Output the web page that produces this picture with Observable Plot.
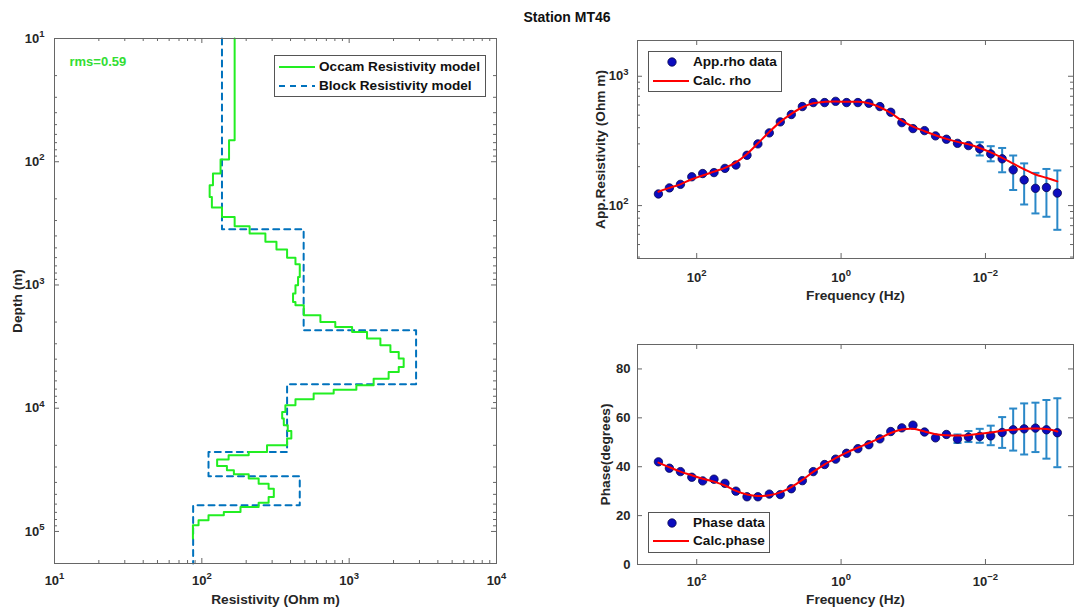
<!DOCTYPE html>
<html>
<head>
<meta charset="utf-8">
<script src="https://cdn.jsdelivr.net/npm/d3@7"></script>
<script src="https://cdn.jsdelivr.net/npm/@observablehq/plot@0.6"></script>
<style>
  html, body { margin: 0; padding: 0; background: #fff; }
  #wrap { position: relative; width: 1074px; height: 607px; overflow: hidden; background: #fff;
          font-family: "Liberation Sans", Arial, sans-serif; }
  .panel { position: absolute; }
  .panel svg { display: block; max-width: none; }
  .title { position: absolute; left: 0; width: 1134px; top: 8px; text-align: center;
           font: bold 14px "Liberation Sans", Arial, sans-serif; color: #111; line-height: 18px; }
  .legend { position: absolute; border: 1px solid #555; background: #fff; box-sizing: border-box; }
  .ltext { position: absolute; font: bold 13.6px "Liberation Sans", Arial, sans-serif; color: #111;
           line-height: 16px; white-space: nowrap; }
  .sw { position: absolute; overflow: visible; }
</style>
</head>
<body>
<div id="wrap">
  <div class="title">Station MT46</div>
</div>
<script>
// ---------------- DATA ----------------
// Occam smooth model: top depth (m) of each layer and its resistivity (Ohm m)
const occamDepthTop = [10, 66.9, 95.9, 124.7, 155, 193, 235, 281, 334, 383,
  445, 516, 600, 680, 861, 1006, 1175, 1374, 1462, 1762,
  1996, 2193, 2405, 2722, 3085, 3496, 3957, 4630, 5084, 5754,
  6521, 7068, 7610, 8465, 9462, 10730, 12140, 13750, 15300, 17650,
  20000, 22680, 24110, 26130, 29440, 31910, 34410, 37260, 40920, 44950,
  52580, 58380, 63380, 69600, 74000, 81240, 89190];
const occamRho = [167, 153, 134, 119, 113, 117, 137, 167, 211, 270,
  321, 379, 432, 462, 450, 432, 416, 432, 492, 638,
  805, 1047, 1322, 1629, 1905, 2170, 2344, 2170, 1853, 1466,
  1119, 785, 574, 432, 369, 351, 360, 383, 405, 379,
  277, 208, 152, 127, 148, 165, 208, 243, 284, 308,
  284, 243, 183, 141, 111, 95, 87];
const occamDepthEnd = 114300;

// Block model
const blockDepthTop = [10, 353, 2334, 6395, 22700, 35700, 61400];
const blockRho = [137, 491, 2846, 379, 111, 462, 87.3];
const blockDepthEnd = 182000;

const rmsLabel = "rms=0.59";

// MT responses
const freq = [339, 239, 168, 117, 82.6, 57.6, 40.6, 28.6, 20.1, 14.2,
  9.87, 6.95, 4.89, 3.44, 2.43, 1.69, 1.19, 0.839, 0.585, 0.412,
  0.290, 0.205, 0.144, 0.101, 0.0698, 0.0492, 0.0347, 0.0244, 0.0172, 0.0120,
  0.00845, 0.00587, 0.00413, 0.00291, 0.00203, 0.00143, 0.00101];
const rhoData = [123, 137, 146, 167, 177, 180, 194, 206, 245, 300,
  365, 444, 506, 583, 626, 626, 640, 626, 626, 618,
  583, 527, 438, 394, 380, 346, 326, 303, 291, 275,
  251, 230, 189, 158, 136, 138, 125];
const rhoLo = [null, null, null, null, null, null, null, null, null, null,
  null, null, null, null, null, null, null, null, null, null,
  null, null, null, null, null, null, null, null, null, 244,
  220, 181, 132, 102, 87, 82, 65];
const rhoHi = [null, null, null, null, null, null, null, null, null, null,
  null, null, null, null, null, null, null, null, null, null,
  null, null, null, null, null, null, null, null, null, 309,
  288, 279, 244, 212, 179, 192, 187];
const rhoCalc = [128, 137, 146, 160, 171, 183, 196, 216, 251, 303,
  371, 444, 512, 576, 618, 634, 637, 634, 634, 618,
  576, 520, 454, 408, 376, 350, 328, 311, 298, 279,
  258, 234, 211, 191, 174, 164, 154];

const phaseData = [42.0, 39.4, 38.0, 35.7, 34.2, 34.9, 33.2, 30.0, 27.7, 27.7,
  28.8, 28.6, 31.0, 34.3, 38.0, 40.9, 43.1, 45.5, 47.4, 49.0,
  51.4, 54.4, 55.9, 57.0, 54.2, 51.8, 53.2, 51.3, 52.1, 52.4,
  52.6, 54.0, 55.1, 55.5, 55.8, 55.1, 53.9];
const phaseLo = [null, null, null, null, null, null, null, null, null, null,
  null, null, null, null, null, null, null, null, null, null,
  null, null, null, null, null, null, null, 49.7, 50.1, 49.8,
  48.8, 47.7, 46.6, 45.0, 46.0, 43.3, 39.8];
const phaseHi = [null, null, null, null, null, null, null, null, null, null,
  null, null, null, null, null, null, null, null, null, null,
  null, null, null, null, null, null, null, 53.2, 54.6, 55.5,
  56.8, 60.3, 63.8, 65.9, 66.2, 67.3, 68.0];
const phaseCalc = [41.7, 39.8, 38.0, 36.5, 35.1, 33.9, 32.3, 30.1, 28.6, 28.0,
  28.3, 29.5, 31.7, 34.6, 37.9, 41.0, 43.5, 45.8, 47.8, 49.7,
  51.7, 53.8, 55.2, 55.5, 54.4, 53.3, 52.9, 52.8, 52.9, 53.5,
  54.0, 54.7, 55.1, 55.5, 55.6, 55.4, 54.4];

// tick labels / axis titles
const resTicks = [10, 100, 1000, 10000];
const depthTicks = [10, 100, 1000, 10000, 100000];
const freqTicks = [100, 1, 0.01];
const rhoTicks = [100, 1000];
const phaseTicks = [0, 20, 40, 60, 80];
const labels = {
  res: "Resistivity (Ohm m)", depth: "Depth (m)",
  appRho: "App.Resistivity (Ohm m)", freq: "Frequency (Hz)", phase: "Phase(degrees)"
};
const legendLeft = ["Occam Resistivity model", "Block Resistivity model"];
const legendRho = ["App.rho data", "Calc. rho"];
const legendPhase = ["Phase data", "Calc.phase"];

// ---------------- STYLE ----------------
const GREEN = "#22ee22", GREEN_TXT = "#33dd33", BLUE = "#0072BD", RED = "#ff0000";
const DOT_FILL = "#0c0cbe", DOT_STROKE = "#07074f", ERR = "#2a88c8";
const AXC = "#666", TXT = "#262626";
const FONT = "'Liberation Sans', Arial, sans-serif";
const svgStyle = {fontFamily: FONT, fontSize: "13px", fontWeight: "bold", color: TXT,
                  background: "transparent", overflow: "visible"};

// "10^k" text; turned into a real superscript after rendering
const pow10 = v => "10^" + Math.round(Math.log10(v));

function minorLog(e0, e1, lo, hi) {
  const out = [];
  for (let e = e0; e <= e1; e++) for (let k = 2; k <= 9; k++) {
    const v = k * Math.pow(10, e);
    if (v > lo && v < hi) out.push(v);
  }
  return out;
}
function xTicks(values, len, innerH) {
  return [
    Plot.tickX(values, {x: d => d, insetTop: innerH - len, stroke: AXC}),
    Plot.tickX(values, {x: d => d, insetBottom: innerH - len, stroke: AXC})
  ];
}
function yTicks(values, len, innerW) {
  return [
    Plot.tickY(values, {y: d => d, insetRight: innerW - len, stroke: AXC}),
    Plot.tickY(values, {y: d => d, insetLeft: innerW - len, stroke: AXC})
  ];
}
function steps(tops, rhos, end) {
  return rhos.flatMap((r, i) => [
    {rho: r, depth: tops[i]},
    {rho: r, depth: i + 1 < tops.length ? tops[i + 1] : end}
  ]);
}
const capSymbol = {draw(ctx, size) { const r = Math.sqrt(size / Math.PI); ctx.moveTo(-r, 0); ctx.lineTo(r, 0); }};

function superscripts(svg) {
  const NS = "http://www.w3.org/2000/svg";
  svg.querySelectorAll("text").forEach(t => {
    const m = /^10\^(-?\d+)$/.exec(t.textContent.trim());
    if (!m) return;
    t.textContent = "10";
    const s = document.createElementNS(NS, "tspan");
    s.setAttribute("dy", "-5.5");
    s.setAttribute("font-size", "9.5");
    s.textContent = m[1].replace("-", "\u2212");
    t.appendChild(s);
  });
  return svg;
}

const wrap = document.getElementById("wrap");
function place(svg, x, y) {
  const d = document.createElement("div");
  d.className = "panel";
  d.style.left = x + "px"; d.style.top = y + "px";
  d.appendChild(superscripts(svg));
  wrap.appendChild(d);
}
const axisTitleX = (txt, dy) => Plot.text([txt], {text: d => d, frameAnchor: "bottom", dy, textAnchor: "middle", lineAnchor: "middle", fontSize: 13.7, fill: TXT});
const axisTitleY = (txt, dx) => Plot.text([txt], {text: d => d, frameAnchor: "left", dx, rotate: -90, textAnchor: "middle", lineAnchor: "middle", fontSize: 13.7, fill: TXT});

// ---------------- LEFT PANEL ----------------
{
  const W = 520, H = 607, mL = 54, mR = 24, mT = 38, mB = 44;
  const iW = W - mL - mR, iH = H - mT - mB;
  const chart = Plot.plot({
    width: W, height: H, marginLeft: mL, marginRight: mR, marginTop: mT, marginBottom: mB,
    style: svgStyle,
    x: {type: "log", domain: [10, 10000]},
    y: {type: "log", domain: [10, blockDepthEnd], reverse: true},
    marks: [
      ...xTicks(minorLog(1, 3, 10, 10000), 3, iH),
      ...xTicks(resTicks, 5, iH),
      ...yTicks(minorLog(1, 5, 10, blockDepthEnd), 3, iW),
      ...yTicks(depthTicks, 5, iW),
      Plot.line(steps(blockDepthTop, blockRho, blockDepthEnd),
        {x: "rho", y: "depth", stroke: BLUE, strokeWidth: 2, strokeDasharray: "6,5"}),
      Plot.line(steps(occamDepthTop, occamRho, occamDepthEnd),
        {x: "rho", y: "depth", stroke: GREEN, strokeWidth: 2}),
      Plot.frame({stroke: AXC}),
      Plot.axisX({ticks: resTicks, anchor: "bottom", tickSize: 0, tickPadding: 12, tickFormat: pow10, label: null, fill: TXT}),
      Plot.axisY({ticks: depthTicks, anchor: "left", tickSize: 0, tickPadding: 10, tickFormat: pow10, label: null, fill: TXT}),
      axisTitleX(labels.res, 36),
      axisTitleY(labels.depth, -37),
      Plot.text([rmsLabel], {text: d => d, frameAnchor: "top-left", dx: 15, dy: 23.4, textAnchor: "start", lineAnchor: "middle", fill: GREEN_TXT, fontSize: 13})
    ]
  });
  place(chart, 0, 0);
}

// ---------------- TOP RIGHT: apparent resistivity ----------------
const fDomain = [661, 0.000603];
{
  const W = 494, H = 300, mL = 57, mR = 1, mT = 40, mB = 42;
  const iW = W - mL - mR, iH = H - mT - mB;
  const pts = freq.map((f, i) => ({f, v: rhoData[i], lo: rhoLo[i], hi: rhoHi[i], c: rhoCalc[i]}));
  const errs = pts.filter(d => d.lo != null);
  const chart = Plot.plot({
    width: W, height: H, marginLeft: mL, marginRight: mR, marginTop: mT, marginBottom: mB,
    style: svgStyle,
    x: {type: "log", domain: fDomain},
    y: {type: "log", domain: [39, 1890]},
    marks: [
      ...xTicks(freqTicks, 5, iH),
      ...yTicks(minorLog(1, 2, 39, 1890), 3, iW),
      ...yTicks(rhoTicks, 5, iW),
      Plot.ruleX(errs, {x: "f", y1: "lo", y2: "hi", stroke: ERR, strokeWidth: 2}),
      Plot.dot(errs, {x: "f", y: "lo", symbol: capSymbol, r: 4, stroke: ERR, strokeWidth: 2, fill: "none"}),
      Plot.dot(errs, {x: "f", y: "hi", symbol: capSymbol, r: 4, stroke: ERR, strokeWidth: 2, fill: "none"}),
      Plot.dot(pts, {x: "f", y: "v", r: 4.2, fill: DOT_FILL, stroke: DOT_STROKE, strokeWidth: 0.8}),
      Plot.line(pts, {x: "f", y: "c", stroke: RED, strokeWidth: 2, curve: "catmull-rom"}),
      Plot.frame({stroke: AXC}),
      Plot.axisX({ticks: freqTicks, anchor: "bottom", tickSize: 0, tickPadding: 14, tickFormat: pow10, label: null, fill: TXT}),
      Plot.axisY({ticks: rhoTicks, anchor: "left", tickSize: 0, tickPadding: 9, tickFormat: pow10, label: null, fill: TXT}),
      axisTitleX(labels.freq, 37),
      axisTitleY(labels.appRho, -37)
    ]
  });
  place(chart, 580, 0);
}

// ---------------- BOTTOM RIGHT: phase ----------------
{
  const W = 494, H = 307, mL = 57, mR = 1, mT = 44, mB = 43;
  const iW = W - mL - mR, iH = H - mT - mB;
  const pts = freq.map((f, i) => ({f, v: phaseData[i], lo: phaseLo[i], hi: phaseHi[i], c: phaseCalc[i]}));
  const errs = pts.filter(d => d.lo != null);
  const chart = Plot.plot({
    width: W, height: H, marginLeft: mL, marginRight: mR, marginTop: mT, marginBottom: mB,
    style: svgStyle,
    x: {type: "log", domain: fDomain},
    y: {type: "linear", domain: [0, 90]},
    marks: [
      ...xTicks(freqTicks, 5, iH),
      ...yTicks(phaseTicks, 5, iW),
      Plot.ruleX(errs, {x: "f", y1: "lo", y2: "hi", stroke: ERR, strokeWidth: 2}),
      Plot.dot(errs, {x: "f", y: "lo", symbol: capSymbol, r: 4, stroke: ERR, strokeWidth: 2, fill: "none"}),
      Plot.dot(errs, {x: "f", y: "hi", symbol: capSymbol, r: 4, stroke: ERR, strokeWidth: 2, fill: "none"}),
      Plot.dot(pts, {x: "f", y: "v", r: 4.2, fill: DOT_FILL, stroke: DOT_STROKE, strokeWidth: 0.8}),
      Plot.line(pts, {x: "f", y: "c", stroke: RED, strokeWidth: 2, curve: "catmull-rom"}),
      Plot.frame({stroke: AXC}),
      Plot.axisX({ticks: freqTicks, anchor: "bottom", tickSize: 0, tickPadding: 12, tickFormat: pow10, label: null, fill: TXT}),
      Plot.axisY({ticks: phaseTicks, anchor: "left", tickSize: 0, tickPadding: 7, tickFormat: d => String(d), label: null, fill: TXT}),
      axisTitleX(labels.freq, 35),
      axisTitleY(labels.phase, -32)
    ]
  });
  place(chart, 580, 300);
}

// ---------------- LEGENDS ----------------
function legend(box, rows) {
  const b = document.createElement("div");
  b.className = "legend";
  Object.assign(b.style, {left: box.x + "px", top: box.y + "px", width: box.w + "px", height: box.h + "px"});
  wrap.appendChild(b);
  const NS = "http://www.w3.org/2000/svg";
  for (const r of rows) {
    const s = document.createElementNS(NS, "svg");
    s.setAttribute("class", "sw");
    s.setAttribute("width", 40); s.setAttribute("height", 12);
    s.style.left = r.sx + "px"; s.style.top = (r.y - 6) + "px";
    if (r.kind === "dot") {
      const c = document.createElementNS(NS, "circle");
      c.setAttribute("cx", 18); c.setAttribute("cy", 6); c.setAttribute("r", 4.2);
      c.setAttribute("fill", DOT_FILL); c.setAttribute("stroke", DOT_STROKE); c.setAttribute("stroke-width", 0.8);
      s.appendChild(c);
    } else {
      const l = document.createElementNS(NS, "line");
      l.setAttribute("x1", 0); l.setAttribute("x2", 36); l.setAttribute("y1", 6); l.setAttribute("y2", 6);
      l.setAttribute("stroke", r.color); l.setAttribute("stroke-width", 2);
      if (r.kind === "dash") l.setAttribute("stroke-dasharray", "6,5");
      s.appendChild(l);
    }
    wrap.appendChild(s);
    const t = document.createElement("div");
    t.className = "ltext";
    t.textContent = r.text;
    t.style.left = r.tx + "px"; t.style.top = (r.y - 8) + "px";
    wrap.appendChild(t);
  }
}
legend({x: 274, y: 55, w: 212, h: 42}, [
  {kind: "line", color: GREEN, text: legendLeft[0], sx: 279, tx: 319, y: 66.7},
  {kind: "dash", color: BLUE, text: legendLeft[1], sx: 279, tx: 319, y: 85.7}
]);
legend({x: 648, y: 51, w: 134, h: 41}, [
  {kind: "dot", text: legendRho[0], sx: 654, tx: 693, y: 62.3},
  {kind: "line", color: RED, text: legendRho[1], sx: 653, tx: 693, y: 80.7}
]);
legend({x: 648, y: 512, w: 122, h: 41}, [
  {kind: "dot", text: legendPhase[0], sx: 654, tx: 693, y: 522.7},
  {kind: "line", color: RED, text: legendPhase[1], sx: 653, tx: 693, y: 541}
]);
</script>
</body>
</html>
